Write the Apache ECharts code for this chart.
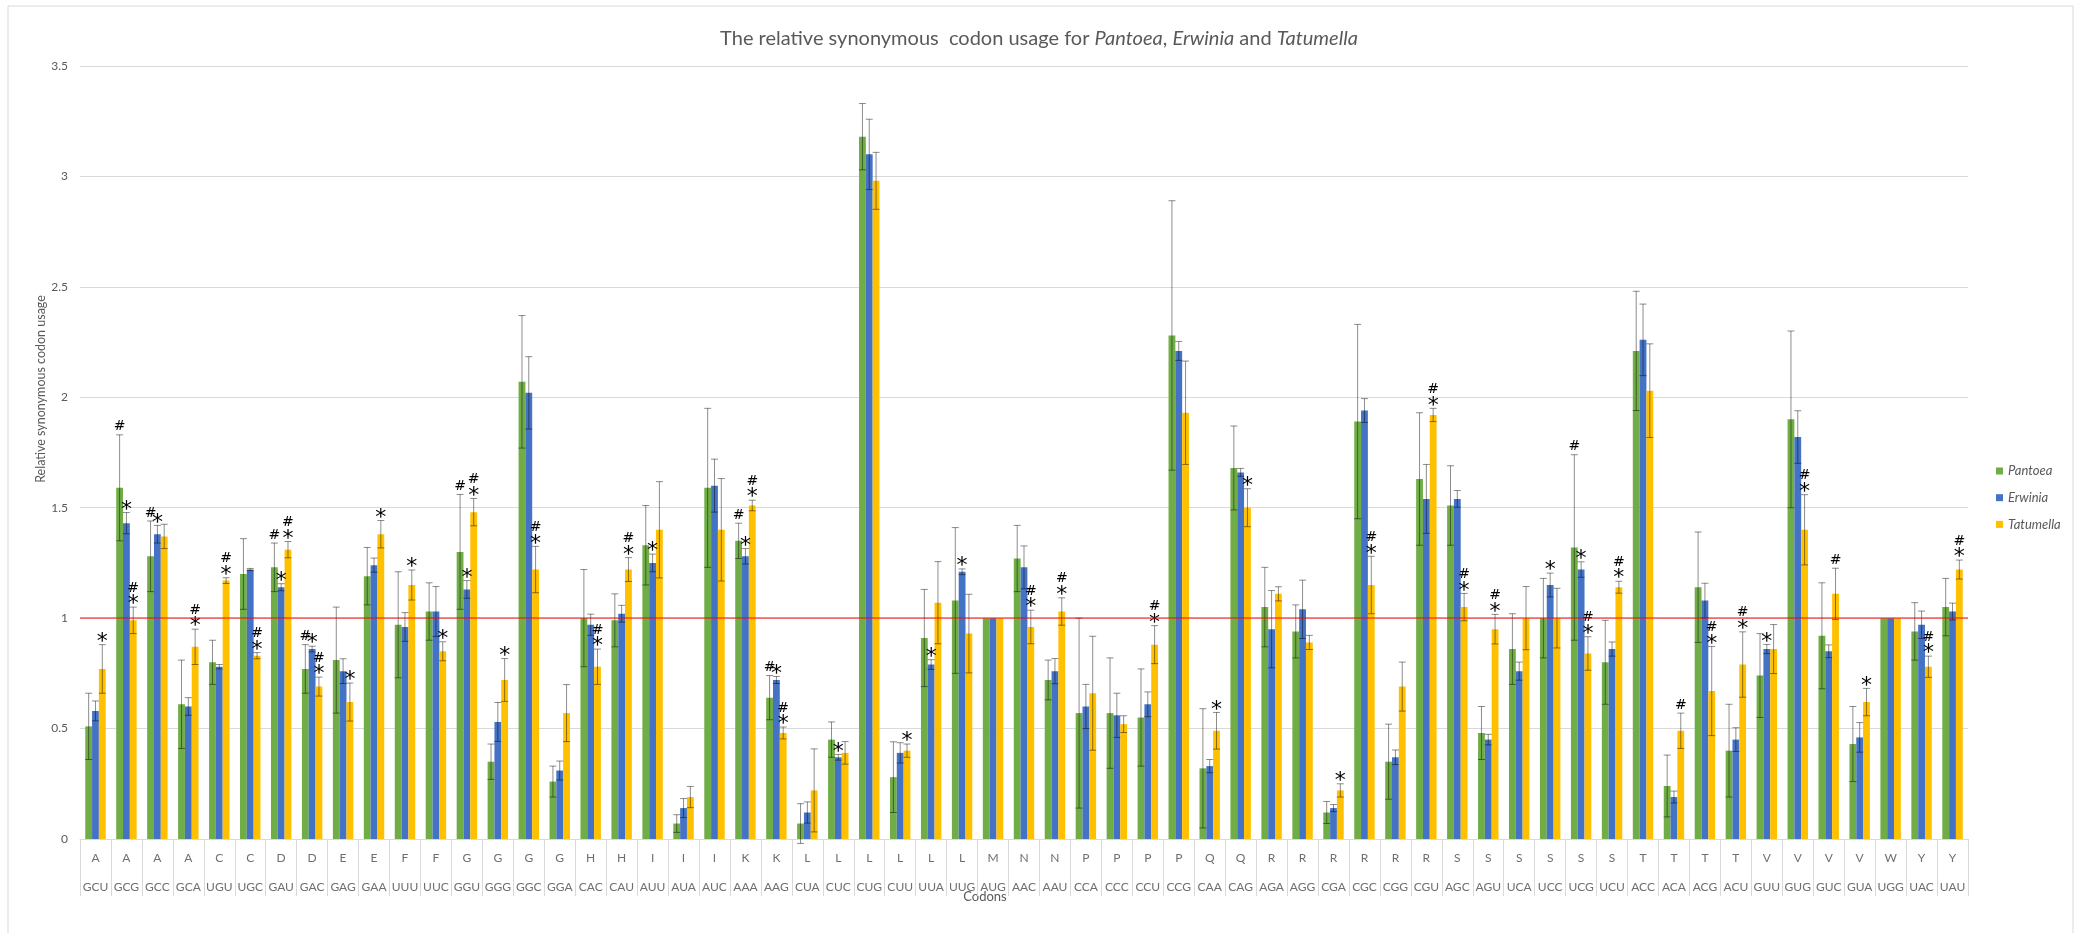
<!DOCTYPE html>
<html>
<head>
<meta charset="utf-8">
<script src="https://cdn.jsdelivr.net/npm/echarts@6/dist/echarts.min.js"></script>
<style>
  html, body { margin: 0; padding: 0; background: #ffffff; }
  #chart { width: 2078px; height: 933px; }
</style>
</head>
<body>
<div id="chart"></div>
<script>
// Amino acid (upper label row) and codon (lower label row) for each category
const aminoAcids = ['A','A','A','A','C','C','D','D','E','E','F','F','G','G','G','G','H','H','I','I',
  'I','K','K','L','L','L','L','L','L','M','N','N','P','P','P','P','Q','Q','R','R',
  'R','R','R','R','S','S','S','S','S','S','T','T','T','T','V','V','V','V','W','Y','Y'];
const codons = ['GCU','GCG','GCC','GCA','UGU','UGC','GAU','GAC','GAG','GAA','UUU','UUC','GGU','GGG','GGC','GGA','CAC','CAU','AUU','AUA',
  'AUC','AAA','AAG','CUA','CUC','CUG','CUU','UUA','UUG','AUG','AAC','AAU','CCA','CCC','CCU','CCG','CAA','CAG','AGA','AGG',
  'CGA','CGC','CGG','CGU','AGC','AGU','UCA','UCC','UCG','UCU','ACC','ACA','ACG','ACU','GUU','GUG','GUC','GUA','UGG','UAC','UAU'];

const seriesNames = ['Pantoea', 'Erwinia', 'Tatumella'];
const yTicks = { min: 0, max: 3.5, step: 0.5 };
const referenceLevel = 1;

// Mean RSCU values
const pantoea = [0.51,1.59,1.28,0.61,0.80,1.20,1.23,0.77,0.81,1.19,
  0.97,1.03,1.30,0.35,2.07,0.26,1.00,0.99,1.33,0.07,
  1.59,1.35,0.64,0.07,0.45,3.18,0.28,0.91,1.08,1.00,
  1.27,0.72,0.57,0.57,0.55,2.28,0.32,1.68,1.05,0.94,
  0.12,1.89,0.35,1.63,1.51,0.48,0.86,1.00,1.32,0.80,
  2.21,0.24,1.14,0.40,0.74,1.90,0.92,0.43,1.00,0.94,
  1.05];
const erwinia = [0.58,1.43,1.38,0.60,0.78,1.22,1.14,0.86,0.76,1.24,
  0.96,1.03,1.13,0.53,2.02,0.31,0.97,1.02,1.25,0.14,
  1.60,1.28,0.72,0.12,0.37,3.10,0.39,0.79,1.21,1.00,
  1.23,0.76,0.60,0.56,0.61,2.21,0.33,1.66,0.95,1.04,
  0.14,1.94,0.37,1.54,1.54,0.45,0.76,1.15,1.22,0.86,
  2.26,0.19,1.08,0.45,0.86,1.82,0.85,0.46,1.00,0.97,
  1.03];
const tatumella = [0.77,0.99,1.37,0.87,1.17,0.83,1.31,0.69,0.62,1.38,
  1.15,0.85,1.48,0.72,1.22,0.57,0.78,1.22,1.40,0.19,
  1.40,1.51,0.48,0.22,0.39,2.98,0.40,1.07,0.93,1.00,
  0.96,1.03,0.66,0.52,0.88,1.93,0.49,1.50,1.11,0.89,
  0.22,1.15,0.69,1.92,1.05,0.95,1.00,1.00,0.84,1.14,
  2.03,0.49,0.67,0.79,0.86,1.40,1.11,0.62,1.00,0.78,
  1.22];

// Standard deviations (symmetric error bars)
const pantoeaErr = [0.15,0.24,0.16,0.20,0.10,0.16,0.11,0.11,0.24,0.13,
  0.24,0.13,0.26,0.08,0.30,0.07,0.22,0.12,0.18,0.04,
  0.36,0.08,0.10,0.09,0.08,0.15,0.16,0.22,0.33,0,
  0.15,0.09,0.43,0.25,0.22,0.61,0.27,0.19,0.18,0.12,
  0.05,0.44,0.17,0.30,0.18,0.12,0.16,0.18,0.42,0.19,
  0.27,0.14,0.25,0.21,0.19,0.40,0.24,0.17,0,0.13,
  0.13];
const erwiniaErr = [0.045,0.048,0.04,0.04,0.01,0.005,0.016,0.013,0.056,0.032,
  0.065,0.113,0.04,0.088,0.164,0.043,0.048,0.038,0.04,0.043,
  0.12,0.035,0.016,0.048,0.013,0.159,0.046,0.022,0.013,0,
  0.097,0.057,0.1,0.1,0.056,0.043,0.03,0.018,0.175,0.132,
  0.016,0.054,0.033,0.156,0.038,0.024,0.041,0.054,0.035,0.032,
  0.162,0.027,0.078,0.054,0.021,0.119,0.029,0.067,0,0.062,
  0.038];
const tatumellaErr = [0.11,0.06,0.055,0.08,0.013,0.014,0.037,0.043,0.086,0.062,
  0.068,0.043,0.062,0.097,0.105,0.129,0.08,0.054,0.218,0.048,
  0.232,0.024,0.027,0.188,0.051,0.129,0.03,0.186,0.178,0,
  0.076,0.062,0.258,0.038,0.086,0.234,0.083,0.086,0.032,0.032,
  0.03,0.13,0.111,0.03,0.062,0.067,0.143,0.135,0.076,0.027,
  0.212,0.08,0.202,0.148,0.111,0.159,0.116,0.062,0,0.048,
  0.043];

// Significance marks above each bar (top to bottom)
const pantoeaMarks = ['','#','#','','','','#','#','','',
  '','','#','','','','','','','',
  '','#','#','','','','','','','',
  '','','','','','','','','','',
  '','','','','','','','','#','',
  '','','','','','','','','','',
  ''];
const erwiniaMarks = ['','*','*','','','','*','*','','',
  '','','*','','','','','','*','',
  '','*','*','','*','','','*','*','',
  '','','','','','','','','','',
  '','','','','','','','*','*','',
  '','','','','*','','','','','',
  ''];
const tatumellaMarks = ['*','#*','','#*','#*','#*','#*','#*','*','*',
  '*','*','#*','*','#*','','#*','#*','','',
  '','#*','#*','','','','*','','','',
  '#*','#*','','','#*','','*','*','','',
  '*','#*','','#*','#*','#*','','','#*','#*',
  '','#','#*','#*','','#*','#','*','','#*',
  '#*'];

const colors = ['#70AD47', '#4472C4', '#FFC000'];
const values = [pantoea, erwinia, tatumella];
const errors = [pantoeaErr, erwiniaErr, tatumellaErr];
const marks = [pantoeaMarks, erwiniaMarks, tatumellaMarks];

const BAR_CATEGORY_GAP = 0.34;
const FONT = 'Lato, "Open Sans", sans-serif';

// Error bars and significance marks, drawn on top of the bars of one series
function makeOverlay(seriesIndex) {
  const markList = marks[seriesIndex];
  return function (params, api) {
    const idx = api.value(0);
    const val = api.value(1);
    const err = api.value(2);
    const band = api.size([1, 0])[0];
    const barW = band * (1 - BAR_CATEGORY_GAP) / 3;
    const base = api.coord([idx, val]);
    const x = base[0] + (seriesIndex - 1) * barW;
    const top = api.coord([idx, val + err])[1];
    const bottom = api.coord([idx, val - err])[1];
    const stroke = { stroke: 'rgba(0,0,0,0.45)', lineWidth: 1 };
    const children = [];
    if (err > 0) {
      const cap = 3.5;
      children.push(
        { type: 'line', shape: { x1: x, y1: top, x2: x, y2: bottom }, style: stroke },
        { type: 'line', shape: { x1: x - cap, y1: top, x2: x + cap, y2: top }, style: stroke },
        { type: 'line', shape: { x1: x - cap, y1: bottom, x2: x + cap, y2: bottom }, style: stroke }
      );
    }
    const m = markList[params.dataIndex] || '';
    let y = top - 8;
    for (let k = m.length - 1; k >= 0; k--) {
      const ch = m[k];
      const star = ch === '*';
      children.push({
        type: 'text',
        x: x,
        y: star ? y + 5.5 : y,
        style: {
          text: ch,
          fill: '#000000',
          fontSize: star ? 22 : 14,
          fontFamily: '"DejaVu Sans", sans-serif',
          align: 'center',
          verticalAlign: 'middle'
        }
      });
      y -= 11;
    }
    return { type: 'group', children: children };
  };
}

const barSeries = seriesNames.map((name, i) => ({
  name: name,
  type: 'bar',
  data: values[i],
  barGap: '0%',
  barCategoryGap: (BAR_CATEGORY_GAP * 100) + '%',
  itemStyle: { color: colors[i] },
  z: 2,
  markLine: i === 0 ? {
    silent: true,
    symbol: 'none',
    label: { show: false },
    lineStyle: { color: '#ff0000', width: 1.5, type: 'solid', opacity: 0.65 },
    data: [{ yAxis: referenceLevel }]
  } : undefined
}));

const overlaySeries = seriesNames.map((name, i) => ({
  name: name + ' SD',
  type: 'custom',
  renderItem: makeOverlay(i),
  data: values[i].map((v, j) => [j, v, errors[i][j]]),
  encode: { x: 0, y: 1 },
  z: 4,
  silent: true
}));

const chart = echarts.init(document.getElementById('chart'));
chart.setOption({
  animation: false,
  backgroundColor: '#ffffff',
  title: {
    left: 'center',
    top: 23,
    text: '{n|The relative synonymous  codon usage for }{i|Pantoea}{n|, }{i|Erwinia}{n| and }{i|Tatumella}',
    textStyle: {
      fontWeight: 'normal',
      rich: {
        n: { fontFamily: FONT, fontSize: 20, fontWeight: 'normal', color: '#595959', lineHeight: 22 },
        i: { fontFamily: FONT, fontSize: 20, fontWeight: 'normal', color: '#595959', fontStyle: 'italic', lineHeight: 22 }
      }
    }
  },
  legend: {
    data: seriesNames,
    orient: 'vertical',
    left: 1991,
    top: 459,
    icon: 'rect',
    itemWidth: 7,
    itemHeight: 7,
    itemGap: 12.7,
    textStyle: { fontFamily: FONT, fontSize: 13, fontStyle: 'italic', color: '#595959', lineHeight: 14 }
  },
  grid: { left: 80, right: 110, top: 66, bottom: 94, containLabel: false },
  xAxis: {
    type: 'category',
    data: codons,
    axisLine: { lineStyle: { color: '#d9d9d9' } },
    axisTick: { show: true, interval: 0, length: 57, lineStyle: { color: '#d9d9d9' } },
    axisLabel: {
      interval: 0,
      margin: 4.5,
      formatter: (v, i) => '{a|' + aminoAcids[i] + '}\n{c|' + v + '}',
      rich: {
        a: { fontFamily: FONT, fontSize: 12, color: '#6f6f6f', lineHeight: 29, align: 'center' },
        c: { fontFamily: FONT, fontSize: 12, color: '#6f6f6f', lineHeight: 29, align: 'center' }
      }
    }
  },
  yAxis: {
    type: 'value',
    min: yTicks.min,
    max: yTicks.max,
    interval: yTicks.step,
    axisLine: { show: false },
    axisTick: { show: false },
    axisLabel: { fontFamily: FONT, fontSize: 12, color: '#595959', margin: 12 },
    splitLine: { lineStyle: { color: '#d9d9d9' } }
  },
  graphic: [
    {
      type: 'rect',
      shape: { x: 8, y: 6, width: 2065, height: 930 },
      style: { fill: 'none', stroke: '#d9d9d9', lineWidth: 1 },
      silent: true, z: -10
    },
    {
      type: 'text',
      x: 41, y: 389,
      rotation: Math.PI / 2,
      style: {
        text: 'Relative synonymous codon usage',
        fontFamily: FONT, fontSize: 12.5, fill: '#595959',
        align: 'center', verticalAlign: 'middle'
      }
    },
    {
      type: 'text',
      x: 985, y: 897,
      style: {
        text: 'Codons',
        fontFamily: FONT, fontSize: 13, fill: '#595959',
        align: 'center', verticalAlign: 'middle'
      }
    }
  ],
  series: barSeries.concat(overlaySeries)
});
</script>
</body>
</html>
